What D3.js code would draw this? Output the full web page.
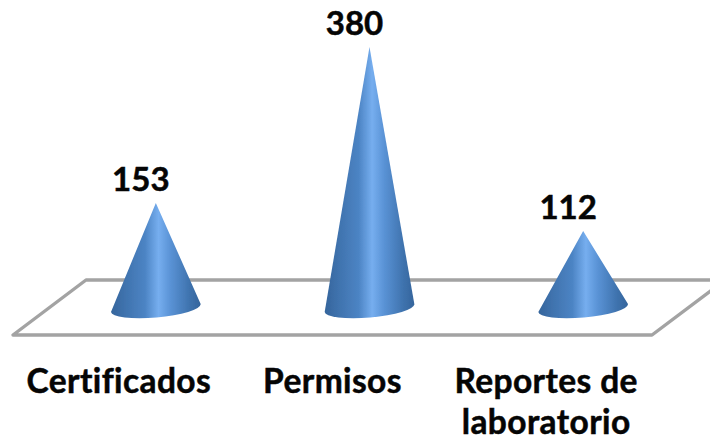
<!DOCTYPE html>
<html>
<head>
<meta charset="utf-8">
<script src="https://cdn.jsdelivr.net/npm/d3@7/dist/d3.min.js"></script>
<style>
html,body{margin:0;padding:0;background:#fff}
svg{display:block}
text{font-family:Lato,"Open Sans",sans-serif;font-weight:700;fill:#050505;stroke:#050505;stroke-width:0.5px;font-variant-ligatures:none;font-feature-settings:"liga" 0}
text.cat{letter-spacing:0.4px}
</style>
</head>
<body>
<svg id="chart" width="710" height="441"></svg>
<script>
// Document counts per category
const categories = ["Certificados", "Permisos", "Reportes de laboratorio"];
const values = [153, 380, 112];
const categoryLines = [["Certificados"], ["Permisos"], ["Reportes de", "laboratorio"]];

const svg = d3.select("#chart");
const defs = svg.append("defs");

const x = d3.scaleBand().domain(categories).range([49, 690]);
const y = d3.scaleLinear().domain([0, 380]).range([308, 47]);

// Soft edge for the floor outline
const shadow = defs.append("filter").attr("id", "floorShadow")
  .attr("x", "-5%").attr("y", "-20%").attr("width", "110%").attr("height", "140%");
shadow.append("feGaussianBlur").attr("stdDeviation", 0.7);

const soft = defs.append("filter").attr("id", "coneSoft")
  .attr("x", "-10%").attr("y", "-5%").attr("width", "120%").attr("height", "110%");
soft.append("feGaussianBlur").attr("stdDeviation", 0.7);

// Horizontal shading that gives each cone its round look
const grad = defs.append("linearGradient").attr("id", "coneFill")
  .attr("x1", 0).attr("x2", 1).attr("y1", 0).attr("y2", 0);
[[0, "#35659c"], [0.15, "#3f72ad"], [0.38, "#4c84c4"], [0.53, "#76aeef"],
 [0.66, "#5a93d6"], [0.88, "#3e72ad"], [1, "#35659c"]].forEach(([o, c]) =>
  grad.append("stop").attr("offset", o).attr("stop-color", c));

// Floor parallelogram, running off the right edge
const floorPts = [[86, 280], [725, 280], [652, 335], [13, 335]];
const floorPath = d3.line().curve(d3.curveLinearClosed)(floorPts);
svg.append("path").attr("d", floorPath).attr("fill", "#fff")
  .attr("stroke", "#a3a3a3").attr("stroke-width", 3.4)
  .attr("stroke-linejoin", "round").attr("filter", "url(#floorShadow)");

const rx = 45, ry = 9.5, tilt = -5;
const rad = tilt * Math.PI / 180;

function conePath(d, i) {
  const cx = x(categories[i]) + x.bandwidth() / 2;
  const cy = y(0);
  const dx = rx * Math.cos(rad), dy = rx * Math.sin(rad);
  return `M${cx},${y(d)}L${cx - dx},${cy - dy}` +
         `A${rx},${ry} ${tilt} 0 0 ${cx + dx},${cy + dy}Z`;
}

svg.selectAll("path.cone").data(values).join("path")
  .attr("class", "cone")
  .attr("d", conePath)
  .attr("fill", "url(#coneFill)")
  .attr("filter", "url(#coneSoft)");

// Value labels sit above and slightly left of each apex
svg.selectAll("text.value").data(values).join("text")
  .attr("class", "value")
  .attr("x", (d, i) => x(categories[i]) + x.bandwidth() / 2 - 15)
  .attr("y", d => y(d) - 12)
  .attr("text-anchor", "middle")
  .attr("font-size", 33)
  .text(d => d);

// Category labels, shifted left to follow the floor's perspective
const labels = svg.selectAll("text.cat").data(categoryLines).join("text")
  .attr("class", "cat")
  .attr("text-anchor", "middle")
  .attr("font-size", 33.5);
labels.each(function (lines, i) {
  const cx = x(categories[i]) + x.bandwidth() / 2 - 37;
  d3.select(this).selectAll("tspan").data(lines).join("tspan")
    .attr("x", cx)
    .attr("y", (l, k) => 393 + k * 41)
    .text(l => l);
});
</script>
</body>
</html>
